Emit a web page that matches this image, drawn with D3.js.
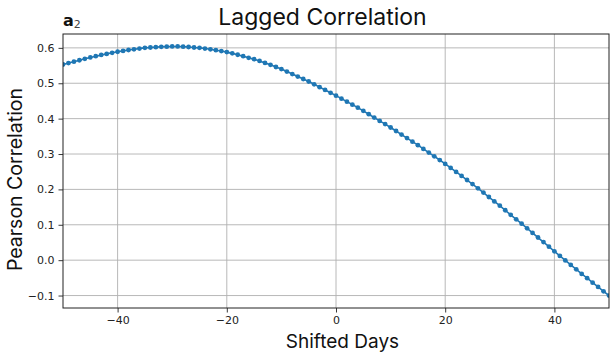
<!DOCTYPE html>
<html>
<head>
<meta charset="utf-8">
<script src="https://cdn.jsdelivr.net/npm/d3@7"></script>
<style>
  html, body { margin: 0; padding: 0; background: #fff; }
  svg { display: block; }
</style>
</head>
<body>
<svg id="chart" width="610" height="352"></svg>
<script>
// Shift in days (x) and the Pearson correlation at that lag (y)
const shiftedDays = d3.range(-50, 51);
const correlation = [
  0.553, 0.557, 0.561, 0.565, 0.569, 0.573, 0.5765, 0.580, 0.583, 0.586,
  0.589, 0.5915, 0.594, 0.596, 0.598, 0.600, 0.601, 0.602, 0.603, 0.6035,
  0.604, 0.604, 0.6035, 0.6025, 0.601, 0.600, 0.598, 0.596, 0.5935, 0.591,
  0.588, 0.5845, 0.5805, 0.5765, 0.572, 0.568, 0.563, 0.5575, 0.552, 0.546,
  0.540, 0.533, 0.526, 0.519, 0.512, 0.505, 0.497, 0.489, 0.481, 0.473,
  0.465, 0.4565, 0.448, 0.4395, 0.431, 0.422, 0.4125, 0.403, 0.3935, 0.3845,
  0.375, 0.365, 0.355, 0.345, 0.335, 0.325, 0.3145, 0.304, 0.2935, 0.283,
  0.272, 0.2607, 0.2494, 0.238, 0.2265, 0.215, 0.203, 0.191, 0.1785, 0.166,
  0.154, 0.141, 0.128, 0.1155, 0.103, 0.090, 0.077, 0.064, 0.051, 0.038,
  0.025, 0.012, -0.0008, -0.0135, -0.026, -0.039, -0.051, -0.0635, -0.0755, -0.088,
  -0.100
];
const xTicks = [-40, -20, 0, 20, 40];
const yTicks = [-0.1, 0.0, 0.1, 0.2, 0.3, 0.4, 0.5, 0.6];

const points = shiftedDays.map((d, i) => ({ x: d, y: correlation[i] }));

const svg = d3.select("#chart");
const plotL = 63, plotR = 609, plotT = 34, plotB = 308;

// x spans the full shift range; y gets a 5% padding on the data extent
const x = d3.scaleLinear().domain([-50, 50]).range([plotL, plotR]);
const [yMin, yMax] = d3.extent(correlation);
const pad = (yMax - yMin) * 0.05;
const y = d3.scaleLinear().domain([yMin - pad, yMax + pad]).range([plotB, plotT]);

const tickFont = "'DejaVu Sans', sans-serif";
const labelFont = "Inter, 'Noto Sans', sans-serif";
const fmtY = v => d3.format(".1f")(v).replace("-", "\u2212");
const fmtX = v => String(v).replace("-", "\u2212");

// grid
const grid = svg.append("g");
grid.selectAll("line.gx").data(xTicks).join("line").attr("class", "gx")
  .attr("x1", d => x(d)).attr("x2", d => x(d))
  .attr("y1", plotT).attr("y2", plotB)
  .attr("stroke", "#b0b0b0").attr("stroke-width", 0.9);
grid.selectAll("line.gy").data(yTicks).join("line").attr("class", "gy")
  .attr("x1", plotL).attr("x2", plotR)
  .attr("y1", d => y(d)).attr("y2", d => y(d))
  .attr("stroke", "#b0b0b0").attr("stroke-width", 0.9);

// series
svg.append("clipPath").attr("id", "plotClip")
  .append("rect").attr("x", plotL).attr("y", plotT)
  .attr("width", plotR - plotL).attr("height", plotB - plotT);

const series = svg.append("g").attr("clip-path", "url(#plotClip)");
series.append("path").datum(points)
  .attr("fill", "none").attr("stroke", "#1f77b4").attr("stroke-width", 1.6)
  .attr("d", d3.line().x(d => x(d.x)).y(d => y(d.y)));
series.selectAll("circle").data(points).join("circle")
  .attr("cx", d => x(d.x)).attr("cy", d => y(d.y))
  .attr("r", 2.4).attr("fill", "#1f77b4");

// axes
const xAxis = d3.axisBottom(x).tickValues(xTicks).tickFormat(fmtX).tickSize(4.5).tickPadding(4);
const yAxis = d3.axisLeft(y).tickValues(yTicks).tickFormat(fmtY).tickSize(4.5).tickPadding(4);

const gx = svg.append("g").attr("transform", `translate(0,${plotB})`).call(xAxis);
const gy = svg.append("g").attr("transform", `translate(${plotL},0)`).call(yAxis);
[gx, gy].forEach(g => {
  g.select(".domain").remove();
  g.selectAll(".tick line").attr("stroke", "#222").attr("stroke-width", 0.9);
  g.selectAll(".tick text").attr("fill", "#222")
    .style("font-family", tickFont).style("font-size", "11px");
});

// frame
svg.append("rect").attr("x", plotL).attr("y", plotT)
  .attr("width", plotR - plotL).attr("height", plotB - plotT)
  .attr("fill", "none").attr("stroke", "#222").attr("stroke-width", 1);

// labels
svg.append("text").attr("x", 322.5).attr("y", 25)
  .attr("text-anchor", "middle").style("font-family", labelFont)
  .style("font-size", "23px").attr("fill", "#111").text("Lagged Correlation");

svg.append("text").attr("x", 342.5).attr("y", 348)
  .attr("text-anchor", "middle").style("font-family", labelFont)
  .style("font-size", "19px").attr("fill", "#111").text("Shifted Days");

svg.append("text").attr("transform", `translate(22,179.5) rotate(-90)`)
  .attr("text-anchor", "middle").style("font-family", labelFont)
  .style("font-size", "19.5px").attr("fill", "#111").text("Pearson Correlation");

const panel = svg.append("text").attr("x", 63).attr("y", 26)
  .style("font-family", tickFont).attr("fill", "#111");
panel.append("tspan").style("font-weight", "bold").style("font-size", "16px").text("a");
panel.append("tspan").attr("dy", 2).attr("fill", "#444").style("font-size", "11px").text("2");
</script>
</body>
</html>
